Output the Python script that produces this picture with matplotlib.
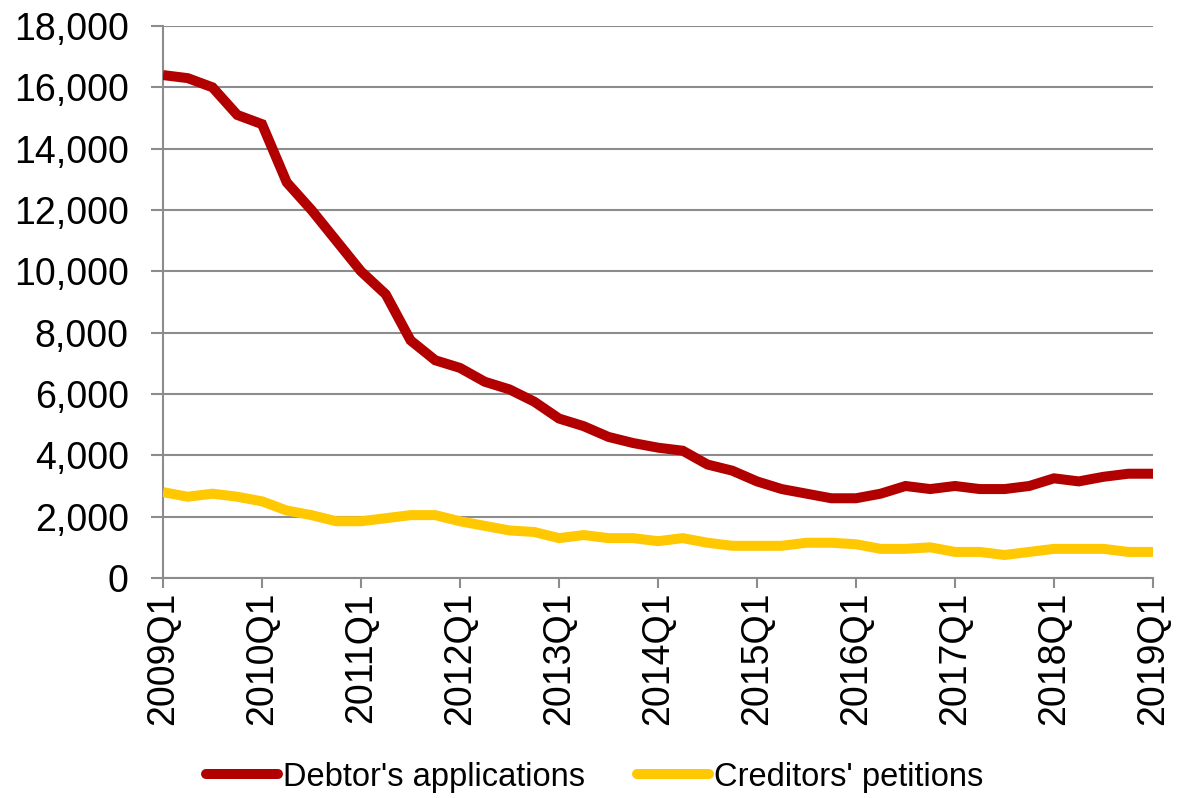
import numpy as np
import matplotlib
matplotlib.use('Agg')
import matplotlib.pyplot as plt
from matplotlib.ticker import FuncFormatter

#Du lieu theo quy, tu 2009Q1 den 2019Q1
years = list(range(2009, 2020))
quarters = [f'{y}Q{q}' for y in years for q in range(1, 5)][:41]

debtors = [16400, 16300, 16000, 15100,
           14800, 12900, 12000, 11000,
           10000, 9250, 7750, 7100,
           6850, 6400, 6150, 5750,
           5200, 4950, 4600, 4400,
           4250, 4150, 3700, 3500,
           3150, 2900, 2750, 2600,
           2600, 2750, 3000, 2900,
           3000, 2900, 2900, 3000,
           3250, 3150, 3300, 3400,
           3400]

creditors = [2800, 2650, 2750, 2650,
             2500, 2200, 2050, 1850,
             1850, 1950, 2050, 2050,
             1850, 1700, 1550, 1500,
             1300, 1400, 1300, 1300,
             1200, 1300, 1150, 1050,
             1050, 1050, 1150, 1150,
             1100, 950, 950, 1000,
             850, 850, 750, 850,
             950, 950, 950, 850,
             850]

series_names = ["Debtor's applications", "Creditors' petitions"]
tick_labels = [q for q in quarters if q.endswith('Q1')]

plt.rcParams['font.family'] = ['Liberation Sans', 'DejaVu Sans']

fig = plt.figure(figsize=(11.77, 7.98), dpi=100)
ax = fig.add_axes([0.1385, 0.2757, 0.9796 - 0.1385, 0.9674 - 0.2757])

grid_col = '#8c8c8c'
x = np.arange(len(quarters))
ax.plot(x, debtors, color='#b20000', lw=7.2, solid_joinstyle='miter',
        solid_capstyle='butt', label=series_names[0], zorder=3)
ax.plot(x, creditors, color='#ffc800', lw=7.2, solid_joinstyle='miter',
        solid_capstyle='butt', label=series_names[1], zorder=3)

ax.set_xlim(0, len(quarters) - 1)
ax.set_ylim(0, 18000)
ax.set_yticks(np.arange(0, 18001, 2000))
ax.yaxis.set_major_formatter(FuncFormatter(lambda v, p: f'{int(v):,}'))
ax.set_xticks([quarters.index(t) for t in tick_labels])
ax.set_xticklabels(tick_labels, rotation=90)

ax.grid(axis='y', color=grid_col, lw=1.5, zorder=1)
for s in ['top', 'right']:
    ax.spines[s].set_visible(False)
for s in ['left', 'bottom']:
    ax.spines[s].set_color(grid_col)
    ax.spines[s].set_linewidth(1.5)
ax.tick_params(axis='y', length=8.6, width=1.5, color=grid_col, labelsize=27, pad=16)
ax.tick_params(axis='x', length=7, width=1.5, color=grid_col, labelsize=27, pad=3)

leg = fig.legend(loc='lower center', bbox_to_anchor=(0.505, -0.03), ncol=2,
                 frameon=False, fontsize=23.5, handlelength=2.2, handletextpad=0.15,
                 columnspacing=1.6)
for h in leg.get_lines():
    h.set_linewidth(7.2)
    h.set_solid_capstyle('round')

fig.savefig('out.png', dpi=100)
